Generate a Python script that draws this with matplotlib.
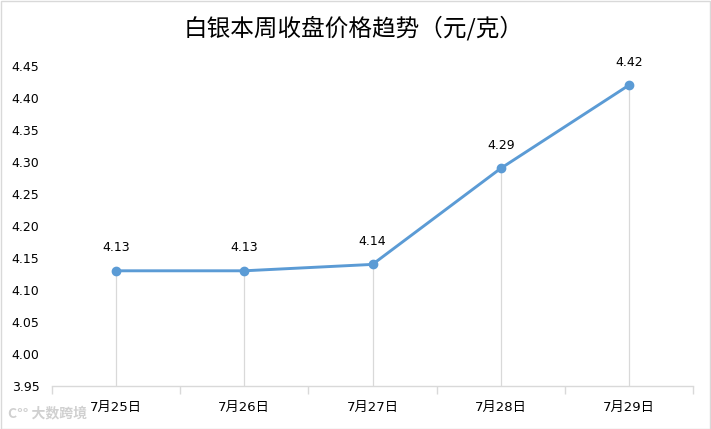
import matplotlib
matplotlib.use("Agg")
import matplotlib.pyplot as plt
from matplotlib.patches import Rectangle

plt.rcParams['font.family'] = ['DejaVu Sans', 'Noto Sans CJK SC']

categories = ["7月25日", "7月26日", "7月27日", "7月28日", "7月29日"]
values = [4.13, 4.13, 4.14, 4.29, 4.42]
yticks = [3.95, 4.00, 4.05, 4.10, 4.15, 4.20, 4.25, 4.30, 4.35, 4.40, 4.45]
title = "白银本周收盘价格趋势（元/克）"

W, H = 711, 429
fig = plt.figure(figsize=(W / 100, H / 100), dpi=100)
ax = fig.add_axes([52 / W, 43 / H, (693 - 52) / W, 320 / H])

x = list(range(len(categories)))
line_color = "#5B9BD5"

# drop lines
ax.vlines(x, 3.95, values, colors="#D9D9D9", linewidth=0.9, zorder=1)
ax.plot(x, values, color=line_color, linewidth=2.1, marker="o", markersize=6, zorder=3)

for xi, v in zip(x, values):
    ax.annotate(f"{v:.2f}", (xi, v), xytext=(0, 12), textcoords="offset points",
                ha="center", va="bottom", fontsize=9, color="#000000")

ax.set_xlim(-0.5, len(categories) - 0.5)
ax.set_ylim(3.95, 4.45)
ax.set_yticks(yticks)
ax.set_yticklabels([f"{t:.2f}" for t in yticks], fontsize=9)
ax.set_xticks(x)
ax.set_xticklabels(categories, fontsize=9.5)
ax.tick_params(axis="x", length=0, pad=11)
ax.tick_params(axis="y", length=0, pad=9)
# category boundary ticks
ax.set_xticks([i - 0.5 for i in range(len(categories) + 1)], minor=True)
ax.tick_params(axis="x", which="minor", length=6, color="#D9D9D9", width=1)

for s in ["top", "right", "left"]:
    ax.spines[s].set_visible(False)
ax.spines["bottom"].set_color("#D9D9D9")
ax.spines["bottom"].set_linewidth(1)

fig.text(354 / W, 1 - 28 / H, title, ha="center", va="center", fontsize=17,
         color="#000000", family=['Noto Sans CJK SC', 'DejaVu Sans'])

# watermark
fig.text(8 / W, 1 - 413 / H, "C°° 大数跨境", ha="left", va="center", fontsize=10,
         color="#D0D0D0", fontweight="bold", family=['Noto Sans CJK SC', 'DejaVu Sans'])

# outer border
fig.patches.append(Rectangle((0.5 / W, 0.5 / H), 1 - 1.5 / W, 1 - 1.5 / H,
                             transform=fig.transFigure, fill=False,
                             edgecolor="#D9D9D9", linewidth=1))

fig.savefig("out.png", dpi=100)
